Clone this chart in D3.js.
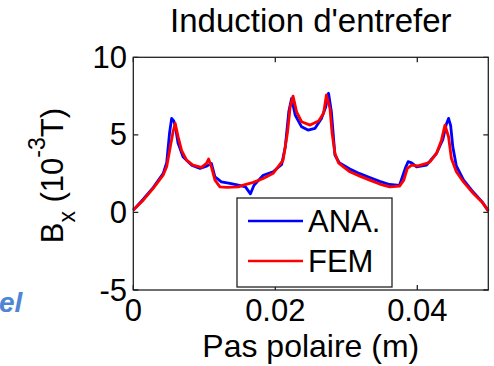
<!DOCTYPE html>
<html>
<head>
<meta charset="utf-8">
<script src="https://cdn.jsdelivr.net/npm/d3@7"></script>
<style>
  body { margin: 0; background: #fff; }
  text { font-family: "Liberation Sans", Arial, sans-serif; }
</style>
</head>
<body>
<div id="chart"></div>
<script>
// values (x in m, B in 1e-3 T)
let xAna = [0, .0014, .0028, .0042, .0047, .0051, .0054, .0057, .0059, .0063, .007, .0082, .0094, .0104, .011, .0115, .0124, .0136, .0148, .0158, .0165, .017, .0175, .0183, .0197, .0209, .0214, .0219, .0223, .0228, .0237, .0246, .0256, .0265, .0271, .0275, .0279, .0284, .029, .0305, .0319, .0333, .0347, .0361, .0375, .0383, .0387, .0392, .0399, .0413, .0427, .0436, .0441, .0444, .0447, .045, .0455, .0465, .0479, .0491, .05];
let bAna = [0.15, 0.85, 1.6, 2.5, 3.2, 5.1, 6.06, 5.9, 5.6, 4.47, 3.59, 3.05, 2.84, 3.0, 3.16, 2.3, 1.97, 1.87, 1.76, 1.65, 1.2, 1.75, 2.0, 2.4, 2.62, 3.1, 4.2, 6.5, 7.35, 6.28, 5.52, 5.31, 5.42, 6.06, 6.8, 7.68, 6.49, 3.7, 3.2, 2.8, 2.5, 2.25, 2.0, 1.8, 1.75, 2.84, 3.27, 3.2, 2.94, 3.05, 3.8, 4.7, 5.7, 6.06, 5.6, 4.23, 3.0, 2.1, 1.3, 0.7, 0.1];

let xFem = [0, .0014, .0028, .0042, .0047, .0052, .0056, .0059, .0063, .0068, .0075, .0084, .0096, .0103, .0106, .011, .0115, .0122, .0132, .0148, .0155, .0169, .0183, .0197, .0211, .0217, .0221, .0225, .023, .0237, .0249, .0261, .0268, .0272, .0277, .028, .0284, .0289, .0296, .0305, .0319, .0333, .0347, .0361, .0375, .0381, .0386, .0392, .0401, .0413, .0418, .0427, .0434, .0439, .0444, .0448, .0455, .0465, .0479, .0491, .05];
let bFem = [0.15, 0.79, 1.55, 2.4, 2.94, 4.2, 5.2, 5.74, 4.9, 4.0, 3.37, 3.05, 2.9, 3.16, 3.44, 2.94, 2.08, 1.65, 1.61, 1.65, 1.76, 1.94, 2.19, 2.52, 3.37, 5.1, 6.8, 7.5, 6.49, 5.85, 5.63, 5.89, 6.39, 7.57, 6.7, 5.1, 3.8, 3.2, 2.94, 2.62, 2.34, 2.08, 1.83, 1.65, 1.7, 2.08, 2.84, 3.05, 3.0, 3.16, 3.27, 3.8, 4.66, 5.63, 4.88, 3.48, 2.62, 1.97, 1.22, 0.68, 0.1];

let xTicks = [0, 0.02, 0.04];
let xTickLabels = ["0", "0.02", "0.04"];
let yTicks = [-5, 0, 5, 10];
let seriesNames = ["ANA.", "FEM"];
let seriesColors = ["#0000ff", "#ff0000"];

let width = 494, height = 366;
let mLeft = 133.3, mRight = 488.3, mTop = 57.3, mBottom = 290;

let svg = d3.select("#chart").append("svg")
    .attr("width", width)
    .attr("height", height);

let x = d3.scaleLinear().domain([0, 0.05]).range([mLeft, mRight]);
let y = d3.scaleLinear().domain([-5, 10]).range([mBottom, mTop]);

// title
svg.append("text")
    .attr("x", (mLeft + mRight) / 2).attr("y", 32)
    .attr("text-anchor", "middle")
    .style("font-size", "33px")
    .text("Induction d'entrefer");

// curves
let line = d3.line()
    .x(d => x(d[0]))
    .y(d => y(d[1]));

let series = [
    d3.zip(xAna, bAna),
    d3.zip(xFem, bFem)
];

svg.selectAll(".curve")
    .data(series)
    .enter().append("path")
    .attr("class", "curve")
    .attr("d", line)
    .attr("fill", "none")
    .attr("stroke", (d, i) => seriesColors[i])
    .attr("stroke-width", 2.8)
    .attr("stroke-linejoin", "round");

// axes, MATLAB style ticks pointing inward
let tickLen = 5;
let frame = svg.append("g").attr("stroke", "#222").attr("stroke-width", 1.3);

frame.append("rect")
    .attr("x", mLeft).attr("y", mTop)
    .attr("width", mRight - mLeft).attr("height", mBottom - mTop)
    .attr("fill", "none");

frame.selectAll(".xt")
    .data(xTicks)
    .enter().append("path")
    .attr("d", d => "M" + x(d) + "," + mBottom + "v" + (-tickLen) + "M" + x(d) + "," + mTop + "v" + tickLen);

frame.selectAll(".yt")
    .data(yTicks)
    .enter().append("path")
    .attr("d", d => "M" + mLeft + "," + y(d) + "h" + tickLen + "M" + mRight + "," + y(d) + "h" + (-tickLen));

svg.selectAll(".xlab")
    .data(xTicks)
    .enter().append("text")
    .attr("x", d => x(d))
    .attr("y", 321)
    .attr("text-anchor", "middle")
    .style("font-size", "31px")
    .text((d, i) => xTickLabels[i]);

svg.selectAll(".ylab")
    .data(yTicks)
    .enter().append("text")
    .attr("x", 127)
    .attr("y", d => y(d) + 10.5)
    .attr("text-anchor", "end")
    .style("font-size", "31px")
    .text(d => d);

// axis labels
svg.append("text")
    .attr("x", (mLeft + mRight) / 2).attr("y", 357)
    .attr("text-anchor", "middle")
    .style("font-size", "32px")
    .text("Pas polaire (m)");

let ylab = svg.append("text")
    .attr("transform", "translate(63," + ((mTop + mBottom) / 2 + 2) + ") rotate(-90)")
    .attr("text-anchor", "middle")
    .style("font-size", "31px");
ylab.append("tspan").text("B");
ylab.append("tspan").attr("dy", 12).style("font-size", "23px").text("x");
ylab.append("tspan").attr("dy", -12).text(" (10");
ylab.append("tspan").attr("dy", -18).style("font-size", "23px").text("-3");
ylab.append("tspan").attr("dy", 18).text("T)");

// legend
let legend = svg.append("g");
legend.append("rect")
    .attr("x", 237).attr("y", 198)
    .attr("width", 155).attr("height", 89)
    .attr("fill", "#fff")
    .attr("stroke", "#222")
    .attr("stroke-width", 1.3);

let items = legend.selectAll(".item")
    .data(seriesNames)
    .enter().append("g")
    .attr("transform", (d, i) => "translate(0," + (221 + i * 40) + ")");

items.append("line")
    .attr("x1", 248).attr("x2", 303)
    .attr("stroke", (d, i) => seriesColors[i])
    .attr("stroke-width", 2.6);

items.append("text")
    .attr("x", 308).attr("y", 11)
    .style("font-size", "31px")
    .text(d => d);

// leftover text fragment at the left edge
svg.append("text")
    .attr("x", -1).attr("y", 312)
    .style("font-size", "28px")
    .style("font-weight", "bold")
    .style("font-style", "italic")
    .attr("fill", "#4f86d4")
    .text("el");
</script>
</body>
</html>
